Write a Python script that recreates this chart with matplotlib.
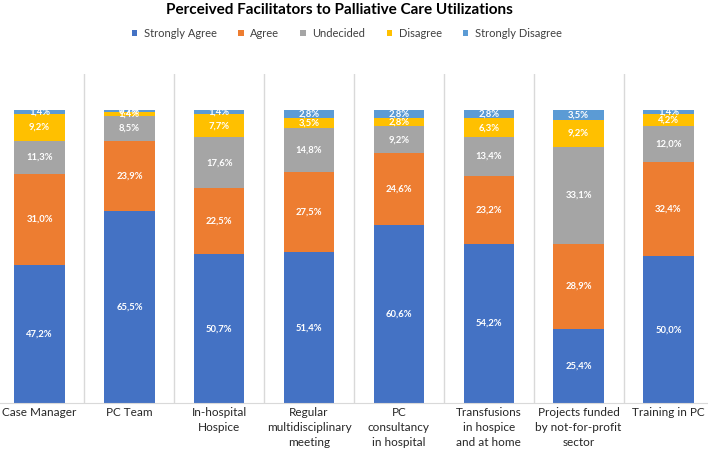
import numpy as np
import matplotlib
matplotlib.use('Agg')
import matplotlib.pyplot as plt
from matplotlib.patches import Patch

plt.rcParams['font.family'] = ['Lato', 'DejaVu Sans']

# Data
categories = ['Case Manager', 'PC Team', 'In-hospital\nHospice',
              'Regular\nmultidisciplinary\nmeeting', 'PC\nconsultancy\nin hospital',
              'Transfusions\nin hospice\nand at home', 'Projects funded\nby not-for-profit\nsector',
              'Training in PC']
series_names = ['Strongly Agree', 'Agree', 'Undecided', 'Disagree', 'Strongly Disagree']
strongly_agree = [47.2, 65.5, 50.7, 51.4, 60.6, 54.2, 25.4, 50.0]
agree = [31.0, 23.9, 22.5, 27.5, 24.6, 23.2, 28.9, 32.4]
undecided = [11.3, 8.5, 17.6, 14.8, 9.2, 13.4, 33.1, 12.0]
disagree = [9.2, 1.4, 7.7, 3.5, 2.8, 6.3, 9.2, 4.2]
strongly_disagree = [1.4, 0.7, 1.4, 2.8, 2.8, 2.8, 3.5, 1.4]

colors = ['#4472C4', '#ED7D31', '#A5A5A5', '#FFC000', '#5B9BD5']

fig = plt.figure(figsize=(7.08, 4.49), dpi=100)
ax = fig.add_axes([0, 0.1024, 1, 0.733])

x = np.arange(len(categories))
bottom = np.zeros(len(categories))
for vals, col in zip([strongly_agree, agree, undecided, disagree, strongly_disagree], colors):
    vals = np.array(vals)
    ax.bar(x, vals, width=0.56, bottom=bottom, color=col, linewidth=0)
    for xi, b, v in zip(x, bottom, vals):
        ax.text(xi, b + v / 2, f'{v:.1f}%'.replace('.', ','), ha='center', va='center',
                color='white', fontsize=6.8, fontweight='bold')
    bottom += vals

# category separators
for xi in x[:-1]:
    ax.axvline(xi + 0.5, color='#D9D9D9', linewidth=1)

ax.set_xlim(-0.44, 7.44)
ax.set_ylim(0, 112.3)
ax.set_xticks(x)
ax.set_xticklabels(categories, fontsize=8.5, color='#262626', linespacing=1.45)
ax.tick_params(axis='x', length=0, pad=3)
ax.set_yticks([])
for s in ['top', 'left', 'right']:
    ax.spines[s].set_visible(False)
ax.spines['bottom'].set_color('#D9D9D9')

fig.text(0.48, 0.978, 'Perceived Facilitators to Palliative Care Utilizations',
         ha='center', va='center', fontsize=11, fontweight='bold', color='#000000')

handles = [Patch(facecolor=c, edgecolor='none') for c in colors]
fig.legend(handles, series_names, loc='center', bbox_to_anchor=(0.49, 0.926), ncol=5,
           frameon=False, fontsize=8, handlelength=0.5, handleheight=0.5,
           handletextpad=0.6, columnspacing=1.9, labelcolor='#404040')

fig.savefig('out.png', dpi=100)
